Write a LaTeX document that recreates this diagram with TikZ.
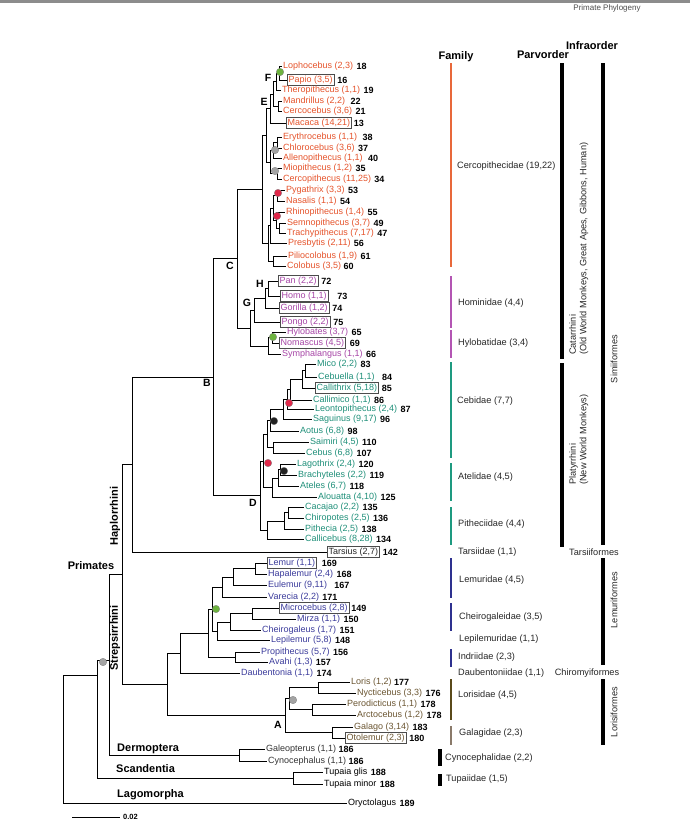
\documentclass[tikz,border=0pt]{standalone}
\usepackage{fontspec}
\setmainfont{Liberation Sans}
\usetikzlibrary{positioning}
\definecolor{oldw}{HTML}{E5532B}
\definecolor{ape}{HTML}{A645A6}
\definecolor{neww}{HTML}{1F8F79}
\definecolor{lem}{HTML}{3B3B9B}
\definecolor{lor}{HTML}{6B5632}
\definecolor{barold}{HTML}{E8683A}
\definecolor{barape}{HTML}{B355B3}
\definecolor{barnew}{HTML}{1E9A80}
\definecolor{barlem}{HTML}{2E318F}
\definecolor{barlor}{HTML}{5A4A1A}
\definecolor{bargal}{HTML}{8A7A6A}
\definecolor{dotgreen}{HTML}{6DB33F}
\definecolor{dotgrey}{HTML}{A3A3A3}
\definecolor{dotred}{HTML}{E0284A}
\definecolor{dotblack}{HTML}{222222}

\begin{document}
\begin{tikzpicture}[x=1pt, y=-1pt,
    branch/.style={line width=0.9pt},
    tip/.style={anchor=west, inner sep=1pt, font=\fontsize{9}{10}\selectfont},
    boxed/.style={draw=black!70, line width=0.45pt, inner sep=1.3pt},
    num/.style={inner sep=1pt, font=\bfseries\fontsize{9}{10}\selectfont},
    dot/.style={circle, inner sep=0pt, minimum size=7.5pt, draw=black!50, line width=0.3pt},
    clade/.style={font=\bfseries\fontsize{10.5}{12}\selectfont, inner sep=0pt},
    group/.style={font=\bfseries\fontsize{11}{12}\selectfont, inner sep=0pt},
    fam/.style={anchor=west, inner sep=0pt, text=black!85, font=\fontsize{9.2}{10}\selectfont},
    rank/.style={inner sep=0pt, text=black!85, font=\fontsize{9.2}{10.5}\selectfont},
    fambar/.style={line width=2.6pt},
    rankbar/.style={line width=3.4pt}]
    \useasboundingbox (0,0) rectangle (690,830);
    \fill[black!45] (0,0) rectangle (690,2.5);
    \node[inner sep=0pt, text=black!70, font=\fontsize{8}{9}\selectfont] (title) at (607,8) {Primate Phylogeny};

    % Old World monkeys
    \coordinate (nF) at (279,73);
    \coordinate (nFT) at (276,81.5);
    \coordinate (nMC) at (278,106);
    \coordinate (nE) at (273,94);
    \coordinate (nPapio) at (270,108.5);
    \coordinate (nEC) at (277,142.5);
    \coordinate (nECA) at (273,150);
    \coordinate (nMioC) at (277,173.5);
    \coordinate (nCerci) at (270,162);
    \coordinate (nCercinae) at (266,135);
    \coordinate (nPN) at (277,195.5);
    \coordinate (nST) at (279,228);
    \coordinate (nRST) at (276,220);
    \coordinate (nPNRST) at (273,208);
    \coordinate (nAsian) at (270,225.5);
    \coordinate (nColobini) at (273,261);
    \coordinate (nColobinae) at (268,243);
    \coordinate (nOWM) at (262,189);

    \node[tip, text=oldw] (lopho) at (282,66) {Lophocebus (2,3)};
    \node[num, right=1pt of lopho] (lopho-n) {18};
    \node[tip, boxed, text=oldw] (papio) at (287,80) {Papio (3,5)};
    \node[num, right=2pt of papio] (papio-n) {16};
    \node[tip, text=oldw] (thero) at (281,90) {Theropithecus (1,1)};
    \node[num, right=1pt of thero] (thero-n) {19};
    \node[tip, text=oldw] (mandr) at (282,101) {Mandrillus (2,2)};
    \node[num, right=3pt of mandr] (mandr-n) {22};
    \node[tip, text=oldw] (cerco) at (282,111) {Cercocebus (3,6)};
    \node[num, right=1pt of cerco] (cerco-n) {21};
    \node[tip, boxed, text=oldw] (macaca) at (286,123) {Macaca (14,21)};
    \node[num, right=1pt of macaca] (macaca-n) {13};
    \node[tip, text=oldw] (eryth) at (282,137) {Erythrocebus (1,1)};
    \node[num, right=3pt of eryth] (eryth-n) {38};
    \node[tip, text=oldw] (chloro) at (282,148) {Chlorocebus (3,6)};
    \node[num, right=1pt of chloro] (chloro-n) {37};
    \node[tip, text=oldw] (allen) at (282,158) {Allenopithecus (1,1)};
    \node[num, right=3pt of allen] (allen-n) {40};
    \node[tip, text=oldw] (mio) at (282,168) {Miopithecus (1,2)};
    \node[num, right=1pt of mio] (mio-n) {35};
    \node[tip, text=oldw] (cercop) at (282,179) {Cercopithecus (11,25)};
    \node[num, right=1pt of cercop] (cercop-n) {34};
    \node[tip, text=oldw] (pyga) at (285,190) {Pygathrix (3,3)};
    \node[num, right=1pt of pyga] (pyga-n) {53};
    \node[tip, text=oldw] (nasal) at (285,201) {Nasalis (1,1)};
    \node[num, right=1pt of nasal] (nasal-n) {54};
    \node[tip, text=oldw] (rhino) at (285,212) {Rhinopithecus (1,4)};
    \node[num, right=1pt of rhino] (rhino-n) {55};
    \node[tip, text=oldw] (semno) at (286,223) {Semnopithecus (3,7)};
    \node[num, right=1pt of semno] (semno-n) {49};
    \node[tip, text=oldw] (trachy) at (286,233) {Trachypithecus (7,17)};
    \node[num, right=1pt of trachy] (trachy-n) {47};
    \node[tip, text=oldw] (presb) at (287,243) {Presbytis (2,11)};
    \node[num, right=1pt of presb] (presb-n) {56};
    \node[tip, text=oldw] (pilio) at (287,256) {Piliocolobus (1,9)};
    \node[num, right=1pt of pilio] (pilio-n) {61};
    \node[tip, text=oldw] (colob) at (286,266) {Colobus (3,5)};
    \node[num, right=0pt of colob] (colob-n) {60};

    \draw[branch] (nF) |- (lopho.west);
    \draw[branch] (nF) |- (papio.west);
    \draw[branch] (nFT) |- (nF);
    \draw[branch] (nFT) |- (thero.west);
    \draw[branch] (nMC) |- (mandr.west);
    \draw[branch] (nMC) |- (cerco.west);
    \draw[branch] (nE) |- (nFT);
    \draw[branch] (nE) |- (nMC);
    \draw[branch] (nPapio) |- (nE);
    \draw[branch] (nPapio) |- (macaca.west);
    \draw[branch] (nEC) |- (eryth.west);
    \draw[branch] (nEC) |- (chloro.west);
    \draw[branch] (nECA) |- (nEC);
    \draw[branch] (nECA) |- (allen.west);
    \draw[branch] (nMioC) |- (mio.west);
    \draw[branch] (nMioC) |- (cercop.west);
    \draw[branch] (nCerci) |- (nECA);
    \draw[branch] (nCerci) |- (nMioC);
    \draw[branch] (nCercinae) |- (nPapio);
    \draw[branch] (nCercinae) |- (nCerci);
    \draw[branch] (nPN) |- (pyga.west);
    \draw[branch] (nPN) |- (nasal.west);
    \draw[branch] (nST) |- (semno.west);
    \draw[branch] (nST) |- (trachy.west);
    \draw[branch] (nRST) |- (rhino.west);
    \draw[branch] (nRST) |- (nST);
    \draw[branch] (nPNRST) |- (nPN);
    \draw[branch] (nPNRST) |- (nRST);
    \draw[branch] (nAsian) |- (nPNRST);
    \draw[branch] (nAsian) |- (presb.west);
    \draw[branch] (nColobini) |- (pilio.west);
    \draw[branch] (nColobini) |- (colob.west);
    \draw[branch] (nColobinae) |- (nAsian);
    \draw[branch] (nColobinae) |- (nColobini);
    \draw[branch] (nOWM) |- (nCercinae);
    \draw[branch] (nOWM) |- (nColobinae);

    % Apes
    \coordinate (nPH) at (268,288.5);
    \coordinate (nPHG) at (265,298);
    \coordinate (nHomin) at (254,310);
    \coordinate (nHN) at (272,337.5);
    \coordinate (nHylo) at (268,346);
    \coordinate (nG) at (250,328);
    \coordinate (nC) at (237,258.5);

    \node[tip, boxed, text=ape] (pan) at (278,281) {Pan (2,2)};
    \node[num, right=2pt of pan] (pan-n) {72};
    \node[tip, boxed, text=ape] (homo) at (280,296) {Homo (1,1)};
    \node[num, right=8pt of homo] (homo-n) {73};
    \node[tip, boxed, text=ape] (gorilla) at (279,308) {Gorilla (1,2)};
    \node[num, right=2pt of gorilla] (gorilla-n) {74};
    \node[tip, boxed, text=ape] (pongo) at (280,322) {Pongo (2,2)};
    \node[num, right=2pt of pongo] (pongo-n) {75};
    \node[tip, text=ape] (hylob) at (286,332) {Hylobates (3,7)};
    \node[num, right=1pt of hylob] (hylob-n) {65};
    \node[tip, boxed, text=ape] (nomas) at (279,343) {Nomascus (4,5)};
    \node[num, right=3pt of nomas] (nomas-n) {69};
    \node[tip, text=ape] (sympha) at (281,354) {Symphalangus (1,1)};
    \node[num, right=1pt of sympha] (sympha-n) {66};

    \draw[branch] (nPH) |- (pan.west);
    \draw[branch] (nPH) |- (homo.west);
    \draw[branch] (nPHG) |- (nPH);
    \draw[branch] (nPHG) |- (gorilla.west);
    \draw[branch] (nHomin) |- (nPHG);
    \draw[branch] (nHomin) |- (pongo.west);
    \draw[branch] (nHN) |- (hylob.west);
    \draw[branch] (nHN) |- (nomas.west);
    \draw[branch] (nHylo) |- (nHN);
    \draw[branch] (nHylo) |- (sympha.west);
    \draw[branch] (nG) |- (nHomin);
    \draw[branch] (nG) |- (nHylo);
    \draw[branch] (nC) |- (nOWM);
    \draw[branch] (nC) |- (nG);

    % New World monkeys
    \coordinate (nMC2) at (305,370.5);
    \coordinate (nMCC) at (302,379);
    \coordinate (nMCCC) at (290,389.5);
    \coordinate (nLeo) at (287,399);
    \coordinate (nCallitr) at (283,409);
    \coordinate (nCalAot) at (270,420);
    \coordinate (nCebinae) at (273,447.5);
    \coordinate (nCebid) at (267,434);
    \coordinate (nLB) at (280,469.5);
    \coordinate (nLBA) at (278,478);
    \coordinate (nAtel) at (272,487.5);
    \coordinate (nCebAte) at (263,461);
    \coordinate (nCC) at (288,512.5);
    \coordinate (nCCP) at (284,521);
    \coordinate (nPith) at (267,530);
    \coordinate (nD) at (260,495.5);
    \coordinate (nB) at (213,377);
    \coordinate (nHaplo) at (132,464.5);

    \node[tip, text=neww] (mico) at (316,364) {Mico (2,2)};
    \node[num, right=1pt of mico] (mico-n) {83};
    \node[tip, text=neww] (cebuel) at (317,377) {Cebuella (1,1)};
    \node[num, right=5pt of cebuel] (cebuel-n) {84};
    \node[tip, boxed, text=neww] (callith) at (315,388) {Callithrix (5,18)};
    \node[num, right=2pt of callith] (callith-n) {85};
    \node[tip, text=neww] (callim) at (312,400) {Callimico (1,1)};
    \node[num, right=1pt of callim] (callim-n) {86};
    \node[tip, text=neww] (leonto) at (314,409) {Leontopithecus (2,4)};
    \node[num, right=1pt of leonto] (leonto-n) {87};
    \node[tip, text=neww] (saguin) at (312,419) {Saguinus (9,17)};
    \node[num, right=1pt of saguin] (saguin-n) {96};
    \node[tip, text=neww] (aotus) at (299,431) {Aotus (6,8)};
    \node[num, right=1pt of aotus] (aotus-n) {98};
    \node[tip, text=neww] (saimiri) at (309,442) {Saimiri (4,5)};
    \node[num, right=1pt of saimiri] (saimiri-n) {110};
    \node[tip, text=neww] (cebus) at (305,453) {Cebus (6,8)};
    \node[num, right=1pt of cebus] (cebus-n) {107};
    \node[tip, text=neww] (lagoth) at (296,464) {Lagothrix (2,4)};
    \node[num, right=1pt of lagoth] (lagoth-n) {120};
    \node[tip, text=neww] (brachy) at (297,475) {Brachyteles (2,2)};
    \node[num, right=1pt of brachy] (brachy-n) {119};
    \node[tip, text=neww] (ateles) at (299,486) {Ateles (6,7)};
    \node[num, right=1pt of ateles] (ateles-n) {118};
    \node[tip, text=neww] (alouat) at (317,497) {Alouatta (4,10)};
    \node[num, right=1pt of alouat] (alouat-n) {125};
    \node[tip, text=neww] (cacaj) at (304,507) {Cacajao (2,2)};
    \node[num, right=1pt of cacaj] (cacaj-n) {135};
    \node[tip, text=neww] (chirop) at (304,518) {Chiropotes (2,5)};
    \node[num, right=1pt of chirop] (chirop-n) {136};
    \node[tip, text=neww] (pithec) at (304,529) {Pithecia (2,5)};
    \node[num, right=1pt of pithec] (pithec-n) {138};
    \node[tip, text=neww] (callic) at (304,539) {Callicebus (8,28)};
    \node[num, right=1pt of callic] (callic-n) {134};
    \node[tip, boxed, text=black!85] (tarsius) at (327,552) {Tarsius (2,7)};
    \node[num, right=2pt of tarsius] (tarsius-n) {142};

    \draw[branch] (nMC2) |- (mico.west);
    \draw[branch] (nMC2) |- (cebuel.west);
    \draw[branch] (nMCC) |- (nMC2);
    \draw[branch] (nMCC) |- (callith.west);
    \draw[branch] (nMCCC) |- (nMCC);
    \draw[branch] (nMCCC) |- (callim.west);
    \draw[branch] (nLeo) |- (nMCCC);
    \draw[branch] (nLeo) |- (leonto.west);
    \draw[branch] (nCallitr) |- (nLeo);
    \draw[branch] (nCallitr) |- (saguin.west);
    \draw[branch] (nCalAot) |- (nCallitr);
    \draw[branch] (nCalAot) |- (aotus.west);
    \draw[branch] (nCebinae) |- (saimiri.west);
    \draw[branch] (nCebinae) |- (cebus.west);
    \draw[branch] (nCebid) |- (nCalAot);
    \draw[branch] (nCebid) |- (nCebinae);
    \draw[branch] (nLB) |- (lagoth.west);
    \draw[branch] (nLB) |- (brachy.west);
    \draw[branch] (nLBA) |- (nLB);
    \draw[branch] (nLBA) |- (ateles.west);
    \draw[branch] (nAtel) |- (nLBA);
    \draw[branch] (nAtel) |- (alouat.west);
    \draw[branch] (nCebAte) |- (nCebid);
    \draw[branch] (nCebAte) |- (nAtel);
    \draw[branch] (nCC) |- (cacaj.west);
    \draw[branch] (nCC) |- (chirop.west);
    \draw[branch] (nCCP) |- (nCC);
    \draw[branch] (nCCP) |- (pithec.west);
    \draw[branch] (nPith) |- (nCCP);
    \draw[branch] (nPith) |- (callic.west);
    \draw[branch] (nD) |- (nCebAte);
    \draw[branch] (nD) |- (nPith);
    \draw[branch] (nB) |- (nC);
    \draw[branch] (nB) |- (nD);
    \draw[branch] (nHaplo) |- (nB);
    \draw[branch] (nHaplo) |- (tarsius.west);

    % Lemurs and lorises
    \coordinate (nLH) at (255,568.5);
    \coordinate (nLHE) at (233,577);
    \coordinate (nLemurid) at (222,587);
    \coordinate (nMM) at (252,613.5);
    \coordinate (nMMC) at (230,622);
    \coordinate (nChLep) at (217,631);
    \coordinate (nLemChe) at (212,609);
    \coordinate (nIndri) at (235,657);
    \coordinate (nLCI) at (208,633);
    \coordinate (nLemurif) at (180,653);
    \coordinate (nLN) at (318,687.5);
    \coordinate (nPA) at (312,709.5);
    \coordinate (nLoris) at (289,698.5);
    \coordinate (nGalag) at (332,732.5);
    \coordinate (nA) at (285,715.5);
    \coordinate (nStrep) at (167,684);

    \node[tip, boxed, text=lem] (lemur) at (267,563) {Lemur (1,1)};
    \node[num, right=4pt of lemur] (lemur-n) {169};
    \node[tip, text=lem] (hapal) at (267,574) {Hapalemur (2,4)};
    \node[num, right=1pt of hapal] (hapal-n) {168};
    \node[tip, text=lem] (eulem) at (267,585) {Eulemur (9,11)};
    \node[num, right=5pt of eulem] (eulem-n) {167};
    \node[tip, text=lem] (varec) at (267,597) {Varecia (2,2)};
    \node[num, right=1pt of varec] (varec-n) {171};
    \node[tip, boxed, text=lem] (microc) at (279,608) {Microcebus (2,8)};
    \node[num, right=1pt of microc] (microc-n) {149};
    \node[tip, text=lem] (mirza) at (296,619) {Mirza (1,1)};
    \node[num, right=1pt of mirza] (mirza-n) {150};
    \node[tip, text=lem] (cheiro) at (261,630) {Cheirogaleus (1,7)};
    \node[num, right=1pt of cheiro] (cheiro-n) {151};
    \node[tip, text=lem] (lepil) at (270,640) {Lepilemur (5,8)};
    \node[num, right=1pt of lepil] (lepil-n) {148};
    \node[tip, text=lem] (propi) at (260,652) {Propithecus (5,7)};
    \node[num, right=1pt of propi] (propi-n) {156};
    \node[tip, text=lem] (avahi) at (268,662) {Avahi (1,3)};
    \node[num, right=1pt of avahi] (avahi-n) {157};
    \node[tip, text=lem] (daub) at (240,673) {Daubentonia (1,1)};
    \node[num, right=1pt of daub] (daub-n) {174};
    \node[tip, text=lor] (loris) at (350,682) {Loris (1,2)};
    \node[num, right=0pt of loris] (loris-n) {177};
    \node[tip, text=lor] (nycti) at (356,693) {Nycticebus (3,3)};
    \node[num, right=1pt of nycti] (nycti-n) {176};
    \node[tip, text=lor] (perod) at (346,704) {Perodicticus (1,1)};
    \node[num, right=1pt of perod] (perod-n) {178};
    \node[tip, text=lor] (arcto) at (356,715) {Arctocebus (1,2)};
    \node[num, right=1pt of arcto] (arcto-n) {178};
    \node[tip, text=lor] (galago) at (353,727) {Galago (3,14)};
    \node[num, right=1pt of galago] (galago-n) {183};
    \node[tip, boxed, text=lor] (otolem) at (345,738) {Otolemur (2,3)};
    \node[num, right=2pt of otolem] (otolem-n) {180};

    \draw[branch] (nLH) |- (lemur.west);
    \draw[branch] (nLH) |- (hapal.west);
    \draw[branch] (nLHE) |- (nLH);
    \draw[branch] (nLHE) |- (eulem.west);
    \draw[branch] (nLemurid) |- (nLHE);
    \draw[branch] (nLemurid) |- (varec.west);
    \draw[branch] (nMM) |- (microc.west);
    \draw[branch] (nMM) |- (mirza.west);
    \draw[branch] (nMMC) |- (nMM);
    \draw[branch] (nMMC) |- (cheiro.west);
    \draw[branch] (nChLep) |- (nMMC);
    \draw[branch] (nChLep) |- (lepil.west);
    \draw[branch] (nLemChe) |- (nLemurid);
    \draw[branch] (nLemChe) |- (nChLep);
    \draw[branch] (nIndri) |- (propi.west);
    \draw[branch] (nIndri) |- (avahi.west);
    \draw[branch] (nLCI) |- (nLemChe);
    \draw[branch] (nLCI) |- (nIndri);
    \draw[branch] (nLemurif) |- (nLCI);
    \draw[branch] (nLemurif) |- (daub.west);
    \draw[branch] (nLN) |- (loris.west);
    \draw[branch] (nLN) |- (nycti.west);
    \draw[branch] (nPA) |- (perod.west);
    \draw[branch] (nPA) |- (arcto.west);
    \draw[branch] (nLoris) |- (nLN);
    \draw[branch] (nLoris) |- (nPA);
    \draw[branch] (nGalag) |- (galago.west);
    \draw[branch] (nGalag) |- (otolem.west);
    \draw[branch] (nA) |- (nLoris);
    \draw[branch] (nA) |- (nGalag);
    \draw[branch] (nStrep) |- (nLemurif);
    \draw[branch] (nStrep) |- (nA);

    % Outgroups
    \coordinate (nPrim) at (122,574);
    \coordinate (nGC) at (239,755);
    \coordinate (nDerm) at (109,660);
    \coordinate (nTup) at (293,778);
    \coordinate (nScand) at (97,675);
    \coordinate (nRoot) at (63,740);

    \node[tip, text=black!80] (galeo) at (265,749) {Galeopterus (1,1)};
    \node[num, right=0pt of galeo] (galeo-n) {186};
    \node[tip, text=black!80] (cynoc) at (267,761) {Cynocephalus (1,1)};
    \node[num, right=0pt of cynoc] (cynoc-n) {186};
    \node[tip] (tglis) at (323,772) {Tupaia glis};
    \node[num, right=1pt of tglis] (tglis-n) {188};
    \node[tip] (tminor) at (323,784) {Tupaia minor};
    \node[num, right=1pt of tminor] (tminor-n) {188};
    \node[tip] (oryct) at (347,803) {Oryctolagus};
    \node[num, right=1pt of oryct] (oryct-n) {189};

    \draw[branch] (nPrim) |- (nHaplo);
    \draw[branch] (nPrim) |- (nStrep);
    \draw[branch] (nGC) |- (galeo.west);
    \draw[branch] (nGC) |- (cynoc.west);
    \draw[branch] (nDerm) |- (nPrim);
    \draw[branch] (nDerm) |- (nGC);
    \draw[branch] (nTup) |- (tglis.west);
    \draw[branch] (nTup) |- (tminor.west);
    \draw[branch] (nScand) |- (nDerm);
    \draw[branch] (nScand) |- (nTup);
    \draw[branch] (nRoot) |- (nScand);
    \draw[branch] (nRoot) |- (oryct.west);

    % Node dots
    \node[dot, fill=dotgreen] (d-papio) at (280,72) {};
    \node[dot, fill=dotgrey] (d-chloro) at (275,150) {};
    \node[dot, fill=dotgrey] (d-mio) at (275,171) {};
    \node[dot, fill=dotred] (d-pyga) at (278,193) {};
    \node[dot, fill=dotred] (d-rhino) at (277,216) {};
    \node[dot, fill=dotgreen] (d-hylo) at (273,337) {};
    \node[dot, fill=dotred] (d-leo) at (289,403) {};
    \node[dot, fill=dotblack] (d-aotus) at (274,421) {};
    \node[dot, fill=dotred] (d-cebate) at (268,463) {};
    \node[dot, fill=dotblack] (d-atel) at (284,471) {};
    \node[dot, fill=dotgreen] (d-lem) at (216,609) {};
    \node[dot, fill=dotgrey] (d-loris) at (293,700) {};
    \node[dot, fill=dotgrey] (d-prim) at (103,662) {};

    % Clade letters and group names
    \node[clade] (lA) at (278,725) {A};
    \node[clade] (lB) at (207,383) {B};
    \node[clade] (lC) at (230,266) {C};
    \node[clade] (lD) at (253,503) {D};
    \node[clade] (lE) at (264,102) {E};
    \node[clade] (lF) at (268,78) {F};
    \node[clade] (lG) at (247,303) {G};
    \node[clade] (lH) at (260,284) {H};
    \node[group] (primates) at (91,566) {Primates};
    \node[group, rotate=90] (haplo) at (115,516) {Haplorrhini};
    \node[group, rotate=90] (strep) at (115,638) {Strepsirrhini};
    \node[group, anchor=west] (dermo) at (117,749) {Dermoptera};
    \node[group, anchor=west] (scand) at (116,769) {Scandentia};
    \node[group, anchor=west] (lago) at (117,795) {Lagomorpha};

    % Scale bar
    \draw[line width=0.6pt] (72,817) -- (120,817);
    \node[anchor=west, inner sep=0pt, font=\bfseries\fontsize{7.5}{9}\selectfont] (scale) at (123,817) {0.02};

    % Family column
    \node[group] (h-fam) at (456,57) {Family};
    \node[group] (h-parv) at (543,55) {Parvorder};
    \node[group] (h-infra) at (592,46) {Infraorder};
    \draw[fambar, barold] (451,63) -- (451,267);
    \draw[fambar, barape] (451,276) -- (451,328);
    \draw[fambar, barape] (451,330) -- (451,358);
    \draw[fambar, barnew] (451,362) -- (451,458);
    \draw[fambar, barnew] (451,463) -- (451,501);
    \draw[fambar, barnew] (451,507) -- (451,545);
    \draw[fambar, barlem] (451,558) -- (451,598);
    \draw[fambar, barlem] (451,603) -- (451,631);
    \draw[fambar, barlem] (451,649) -- (451,667);
    \draw[fambar, barlor] (451,679) -- (451,720);
    \draw[line width=1.2pt, bargal] (451,726) -- (451,745);
    \draw[rankbar] (440,749) -- (440,766);
    \draw[rankbar] (440,774) -- (440,786);
    \node[fam] (f-cerco) at (457,166) {Cercopithecidae (19,22)};
    \node[fam] (f-homin) at (458,303) {Hominidae (4,4)};
    \node[fam] (f-hylo) at (458,343) {Hylobatidae (3,4)};
    \node[fam] (f-cebid) at (457,401) {Cebidae (7,7)};
    \node[fam] (f-atel) at (458,477) {Atelidae (4,5)};
    \node[fam] (f-pith) at (458,524) {Pitheciidae (4,4)};
    \node[fam] (f-tars) at (458,552) {Tarsiidae (1,1)};
    \node[fam] (f-lemur) at (459,580) {Lemuridae (4,5)};
    \node[fam] (f-cheiro) at (459,617) {Cheirogaleidae (3,5)};
    \node[fam] (f-lepil) at (459,639) {Lepilemuridae (1,1)};
    \node[fam] (f-indri) at (458,657) {Indriidae (2,3)};
    \node[fam] (f-daub) at (458,673) {Daubentoniidae (1,1)};
    \node[fam] (f-loris) at (458,695) {Lorisidae (4,5)};
    \node[fam] (f-galag) at (459,733) {Galagidae (2,3)};
    \node[fam] (f-cyno) at (445,758) {Cynocephalidae (2,2)};
    \node[fam] (f-tupa) at (446,779) {Tupaiidae (1,5)};

    % Parvorder and infraorder
    \draw[rankbar] (562,63) -- (562,359);
    \draw[rankbar] (562,363) -- (562,547);
    \draw[rankbar] (603,63) -- (603,545);
    \draw[rankbar] (603,558) -- (603,665);
    \draw[rankbar] (603,679) -- (603,745);
    \node[rank, rotate=90, align=left, anchor=north west] (catar) at (569,355) {Catarrhini\\(Old World Monkeys, Great Apes, Gibbons, Human)};
    \node[rank, rotate=90, align=left, anchor=north west] (platy) at (569,485) {Platyrrhini\\(New World Monkeys)};
    \node[rank, rotate=90] (simii) at (614,359) {Simiiformes};
    \node[rank] (tarsif) at (594,552) {Tarsiiformes};
    \node[rank, rotate=90] (lemurif) at (614,600) {Lemuriformes};
    \node[rank] (chiro) at (587,673) {Chiromyiformes};
    \node[rank, rotate=90] (lorisif) at (614,712) {Lorisiformes};

\end{tikzpicture}
\end{document}
